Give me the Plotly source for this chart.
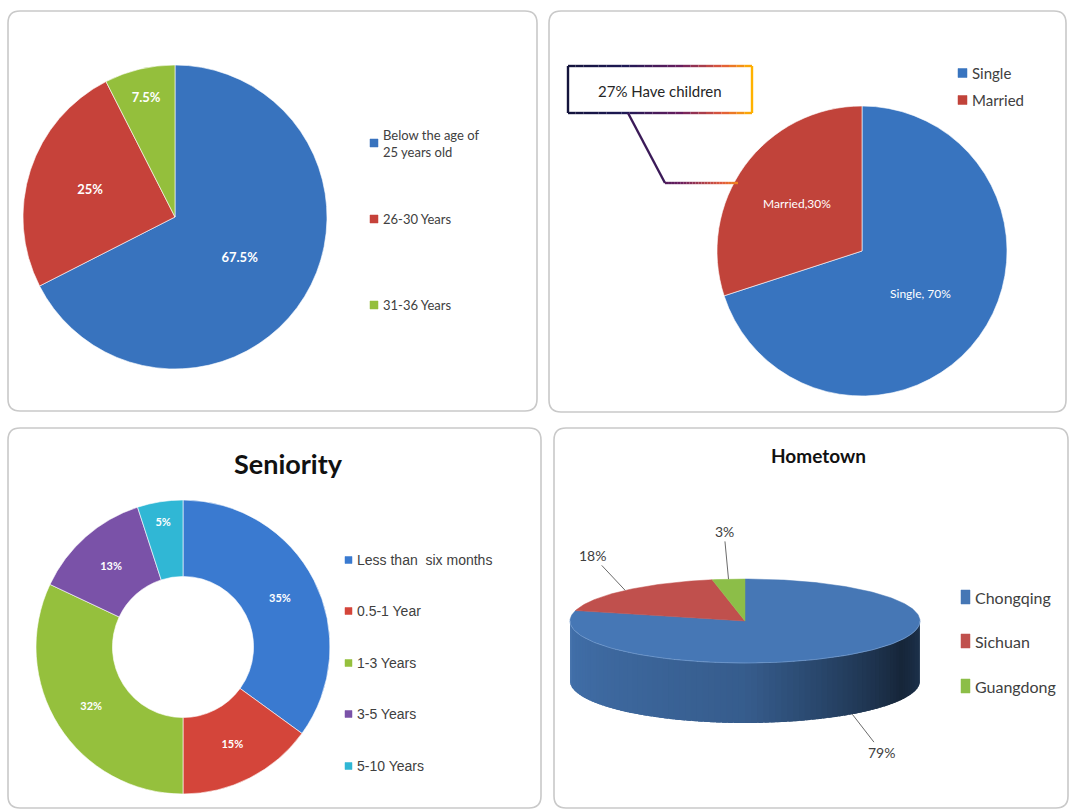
import math
import plotly.graph_objects as go

W, H = 1071, 810

# ---------------- data ----------------
age_labels = ["Below the age of 25 years old", "26-30 Years", "31-36 Years"]
age_values = [67.5, 25, 7.5]

marital_labels = ["Single", "Married"]
marital_values = [70, 30]
children_pct = 27

seniority_labels = ["Less than  six months", "0.5-1 Year", "1-3 Years", "3-5 Years", "5-10 Years"]
seniority_values = [35, 15, 32, 13, 5]

hometown_labels = ["Chongqing", "Sichuan", "Guangdong"]
hometown_values = [79, 18, 3]

# ---------------- styles ----------------
age_colors = ["#3873be", "#c6423a", "#94bf3c"]
marital_colors = ["#3874bf", "#c1433a"]
seniority_colors = ["#3a7ad0", "#d4453a", "#95c03d", "#7a52a8", "#30b7d5"]
hometown_colors = [(70, 119, 181), (192, 80, 77), (140, 190, 72)]
CAL = "Lato, Carlito, Calibri, sans-serif"
ARI = "Liberation Sans, Arial, sans-serif"


def dom(x0, x1, y0, y1):
    return dict(x=[x0 / W, x1 / W], y=[1 - y1 / H, 1 - y0 / H])


fig = go.Figure()

# Pie 1 - age
fig.add_trace(go.Pie(
    labels=age_labels, values=age_values, sort=False, direction="clockwise", rotation=0,
    marker=dict(colors=age_colors, line=dict(color="rgba(255,255,255,0.6)", width=1)),
    texttemplate="%{value}%", textposition="inside", insidetextorientation="horizontal",
    textfont=dict(family=CAL, size=13, color="white", weight="bold"),
    domain=dom(23, 327, 65, 369), showlegend=False, hoverinfo="label+value",
))

# Pie 2 - marital
fig.add_trace(go.Pie(
    labels=marital_labels, values=marital_values, sort=False, direction="clockwise", rotation=0,
    marker=dict(colors=marital_colors, line=dict(color="rgba(255,255,255,0.6)", width=1)),
    texttemplate=["%{label}, %{value}%", "%{label},%{value}%"], textposition="inside",
    insidetextorientation="horizontal",
    textfont=dict(family=CAL, size=12, color="white"),
    domain=dom(717, 1007, 106, 396), showlegend=False, hoverinfo="label+value",
))

# Pie 3 - seniority (donut)
fig.add_trace(go.Pie(
    labels=seniority_labels, values=seniority_values, sort=False, direction="clockwise", rotation=0,
    hole=0.48,
    marker=dict(colors=seniority_colors, line=dict(color="rgba(255,255,255,0.6)", width=1)),
    texttemplate="%{value}%", textposition="inside", insidetextorientation="horizontal",
    textfont=dict(family=CAL, size=11, color="white", weight="bold"),
    domain=dom(36, 330, 500, 794), showlegend=False, hoverinfo="label+value",
))

# Pie 4 - hometown, drawn as a 3D-looking elliptical pie from the values
cx, cy, a, b, depth = 745, 621, 175, 42, 60


def pt(theta, dy=0.0):
    t = math.radians(theta)
    return cx + a * math.sin(t), cy - b * math.cos(t) + dy


total = sum(hometown_values)
bounds = []
acc = 0.0
for v in hometown_values:
    bounds.append((acc / total * 360, (acc + v) / total * 360))
    acc += v


def slice_index(theta):
    for i, (s, e) in enumerate(bounds):
        if s <= theta < e:
            return i
    return len(bounds) - 1


def shade_factor(t):
    stops = [(0.0, 0.95), (0.5, 0.78), (0.85, 0.32), (1.0, 0.45)]
    for (t0, f0), (t1, f1) in zip(stops, stops[1:]):
        if t0 <= t <= t1:
            return f0 + (f1 - f0) * (t - t0) / (t1 - t0)
    return stops[-1][1]


step = 2
th = 90
while th < 270:
    t1, t2 = th, min(th + step * 1.8, 270)
    mid = th + step / 2
    base = hometown_colors[slice_index(mid)]
    f = shade_factor((270 - mid) / 180)
    col = "rgb(%d,%d,%d)" % tuple(int(c * f) for c in base)
    pts = [pt(t1), pt((t1 + t2) / 2), pt(t2), pt(t2, depth), pt((t1 + t2) / 2, depth), pt(t1, depth)]
    fig.add_trace(go.Scatter(
        x=[p[0] for p in pts] + [pts[0][0]], y=[p[1] for p in pts] + [pts[0][1]],
        mode="lines", fill="toself", fillcolor=col, line=dict(width=0),
        hoverinfo="skip", showlegend=False, xaxis="x", yaxis="y",
    ))
    th += step

for i, (s, e) in enumerate(bounds):
    col = "rgb(%d,%d,%d)" % hometown_colors[i]
    xs, ys = [cx], [cy]
    n = max(2, int((e - s) / 1) + 1)
    for k in range(n + 1):
        x, y = pt(s + (e - s) * k / n)
        xs.append(x)
        ys.append(y)
    xs.append(cx)
    ys.append(cy)
    fig.add_trace(go.Scatter(
        x=xs, y=ys, mode="lines", fill="toself", fillcolor=col, line=dict(color=col, width=0.5),
        hoverinfo="text", text="%s %d%%" % (hometown_labels[i], hometown_values[i]),
        showlegend=False, xaxis="x", yaxis="y",
    ))

# subtle rim between top face and side
rim = [pt(90 + k) for k in range(0, 181, 2)]
fig.add_trace(go.Scatter(x=[p[0] for p in rim], y=[p[1] for p in rim], mode="lines",
                         line=dict(color="rgba(120,160,210,0.6)", width=1),
                         hoverinfo="skip", showlegend=False))

annotations = []
shapes = []

# hometown leader labels
for i, (s, e) in enumerate(bounds):
    mid = (s + e) / 2
    front = 90 < mid < 270
    x, y = pt(mid, depth if front else 0)
    dx, dy = math.sin(math.radians(mid)), -math.cos(math.radians(mid))
    annotations.append(dict(
        x=x, y=y, xref="x", yref="y", text="%d%%" % hometown_values[i],
        showarrow=True, arrowhead=0, arrowwidth=1, arrowcolor="#6b6b6b",
        ax=dx * 48, ay=dy * 48, font=dict(family=CAL, size=14, color="#404040"),
    ))


# ---------------- panels ----------------
def rrect(x0, y0, x1, y1, r=12):
    return (f"M {x0 + r},{y0} L {x1 - r},{y0} Q {x1},{y0} {x1},{y0 + r} L {x1},{y1 - r} "
            f"Q {x1},{y1} {x1 - r},{y1} L {x0 + r},{y1} Q {x0},{y1} {x0},{y1 - r} "
            f"L {x0},{y0 + r} Q {x0},{y0} {x0 + r},{y0} Z")


for (x0, y0, x1, y1) in [(8, 11, 537, 411), (549, 11, 1066, 412), (8, 428, 541, 808), (554, 428, 1068, 808)]:
    shapes.append(dict(type="path", path=rrect(x0, y0, x1, y1), xref="x", yref="y",
                       line=dict(color="#c9c9c9", width=1.6), fillcolor="rgba(0,0,0,0)", layer="below"))


# ---------------- legends ----------------
def add_legend(xsq, ys, labels, colors, family, size, sq_w, sq_h, color="#404040"):
    for yy, lab, col in zip(ys, labels, colors):
        if isinstance(col, tuple):
            col = "rgb(%d,%d,%d)" % col
        shapes.append(dict(type="rect", xref="x", yref="y", x0=xsq, x1=xsq + sq_w,
                           y0=yy - sq_h / 2, y1=yy + sq_h / 2, fillcolor=col,
                           line=dict(color=col, width=0.5)))
        annotations.append(dict(x=xsq + sq_w + 3, y=yy, xref="x", yref="y", text=lab,
                                showarrow=False, xanchor="left", yanchor="middle", align="left",
                                font=dict(family=family, size=size, color=color)))


age_legend_text = [l.replace("age of ", "age of<br>") for l in age_labels]
add_legend(370, [143, 219, 305], age_legend_text, age_colors, CAL, 13, 8, 8)
add_legend(958, [73, 100], marital_labels, marital_colors, CAL, 15, 9, 9)
add_legend(345, [560, 611, 663, 714, 766], seniority_labels, seniority_colors, ARI, 14, 7, 7)
add_legend(961, [597, 641, 686], hometown_labels, hometown_colors, CAL, 16, 9, 14)

# titles
annotations.append(dict(x=288, y=463, xref="x", yref="y", text="<b>Seniority</b>", showarrow=False,
                        font=dict(family=CAL, size=27, color="#111111")))
annotations.append(dict(x=818, y=455, xref="x", yref="y", text="<b>Hometown</b>", showarrow=False,
                        font=dict(family=CAL, size=19, color="#111111")))


# ---------------- "have children" call-out ----------------
grad_stops = [(568, (20, 20, 60)), (625, (30, 25, 85)), (680, (105, 30, 95)),
              (722, (225, 90, 60)), (752, (255, 178, 0))]


def grad_color(x):
    if x <= grad_stops[0][0]:
        return grad_stops[0][1]
    for (x0, c0), (x1, c1) in zip(grad_stops, grad_stops[1:]):
        if x0 <= x <= x1:
            t = (x - x0) / (x1 - x0)
            return tuple(int(c0[k] + (c1[k] - c0[k]) * t) for k in range(3))
    return grad_stops[-1][1]


def grad_line(p0, p1, n=24, width=2.4):
    for k in range(n):
        xa = p0[0] + (p1[0] - p0[0]) * k / n
        ya = p0[1] + (p1[1] - p0[1]) * k / n
        xb = p0[0] + (p1[0] - p0[0]) * (k + 1) / n
        yb = p0[1] + (p1[1] - p0[1]) * (k + 1) / n
        c = grad_color((xa + xb) / 2)
        shapes.append(dict(type="line", xref="x", yref="y", x0=xa, y0=ya, x1=xb, y1=yb,
                           line=dict(color="rgb(%d,%d,%d)" % c, width=width)))


bx0, by0, bx1, by1 = 568, 66, 752, 113
shapes.append(dict(type="rect", xref="x", yref="y", x0=bx0, y0=by0, x1=bx1, y1=by1,
                   fillcolor="white", line=dict(width=0), layer="below"))
grad_line((bx0, by0), (bx1, by0))
grad_line((bx0, by1), (bx1, by1))
grad_line((bx0, by0), (bx0, by1), n=1)
grad_line((bx1, by0), (bx1, by1), n=1)
grad_line((628, by1), (665, 183), n=1)
grad_line((665, 183), (738, 183))
annotations.append(dict(x=(bx0 + bx1) / 2, y=(by0 + by1) / 2 + 1, xref="x", yref="y",
                        text="%d%% Have children" % children_pct, showarrow=False,
                        font=dict(family=CAL, size=15, color="#262626")))

fig.update_layout(
    width=W, height=H, margin=dict(l=0, r=0, t=0, b=0),
    paper_bgcolor="white", plot_bgcolor="white",
    xaxis=dict(range=[0, W], visible=False, fixedrange=True, domain=[0, 1]),
    yaxis=dict(range=[H, 0], visible=False, fixedrange=True, domain=[0, 1]),
    shapes=shapes, annotations=annotations, showlegend=False,
)

fig.write_html("out.html")
